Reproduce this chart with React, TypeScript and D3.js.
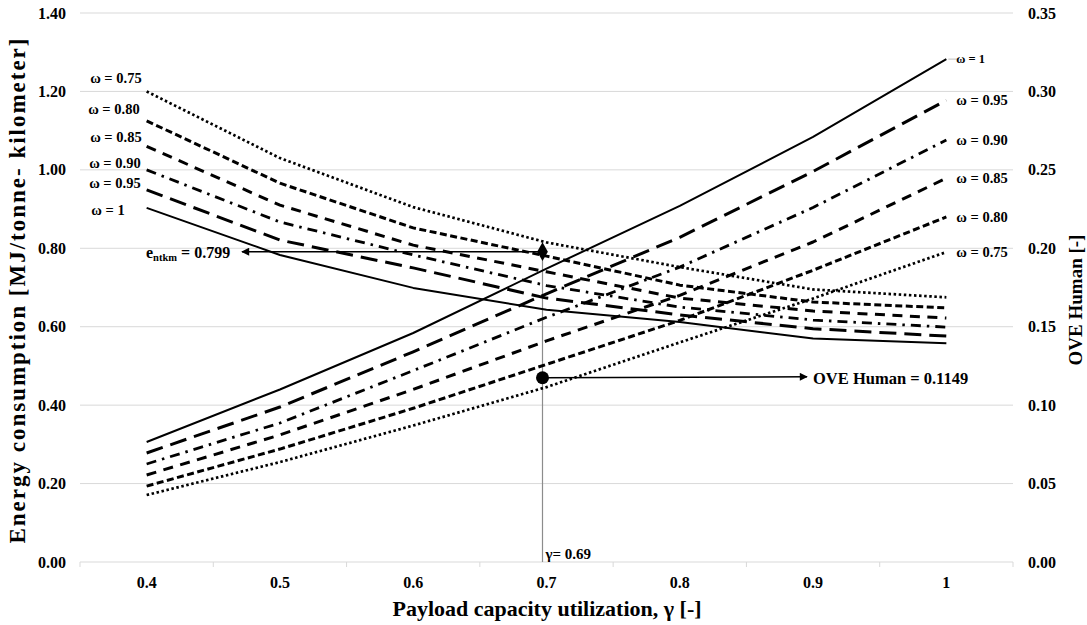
import { useEffect, useRef } from "react";
import * as d3 from "d3";

// payload capacity utilization categories
const gammaValues = [0.4, 0.5, 0.6, 0.7, 0.8, 0.9, 1.0];
const gammaLabels = ["0.4", "0.5", "0.6", "0.7", "0.8", "0.9", "1"];
const omegaLabels = ["ω = 0.75", "ω = 0.80", "ω = 0.85", "ω = 0.90", "ω = 0.95", "ω = 1"];

// energy consumption [MJ/tonne-km] (left axis)
const energy075 = [1.2, 1.03, 0.905, 0.815, 0.752, 0.695, 0.675];
const energy080 = [1.125, 0.966, 0.852, 0.78, 0.706, 0.663, 0.648];
const energy085 = [1.06, 0.91, 0.808, 0.74, 0.673, 0.64, 0.622];
const energy090 = [1.0, 0.867, 0.783, 0.705, 0.65, 0.617, 0.599];
const energy095 = [0.949, 0.821, 0.75, 0.673, 0.63, 0.595, 0.576];
const energy100 = [0.903, 0.783, 0.699, 0.643, 0.612, 0.57, 0.558];

// OVE Human [-] (right axis)
const ove075 = [0.0427, 0.0637, 0.087, 0.1115, 0.14, 0.168, 0.1976];
const ove080 = [0.0484, 0.072, 0.098, 0.126, 0.154, 0.186, 0.22];
const ove085 = [0.0555, 0.081, 0.11, 0.141, 0.17, 0.204, 0.2447];
const ove090 = [0.0625, 0.0886, 0.122, 0.156, 0.188, 0.226, 0.269];
const ove095 = [0.0695, 0.0988, 0.134, 0.171, 0.207, 0.249, 0.2944];
const ove100 = [0.0765, 0.11, 0.146, 0.187, 0.227, 0.271, 0.3206];

const energySeries = [energy075, energy080, energy085, energy090, energy095, energy100];
const oveSeries = [ove075, ove080, ove085, ove090, ove095, ove100];

const energyTicks = [0, 0.2, 0.4, 0.6, 0.8, 1.0, 1.2, 1.4];
const oveTicks = [0, 0.05, 0.1, 0.15, 0.2, 0.25, 0.3, 0.35];

// highlighted operating point
const markGamma = 0.697;
const markEnergy = 0.799;
const markOve = 0.1149;

// line style per omega (same order as omegaLabels)
const lineStyles = [
  { dash: "2.5,2.6", width: 2.7 },
  { dash: "7,3.5", width: 3 },
  { dash: "10,7.5", width: 3 },
  { dash: "10,6,2.5,6", width: 2.8 },
  { dash: "17,8", width: 3 },
  { dash: null, width: 2 },
];
// nudges for the left-hand labels
const leftLabelNudge = [
  { dx: -5, dy: -14 },
  { dx: -7, dy: -12 },
  { dx: -5, dy: -9 },
  { dx: -6, dy: -7 },
  { dx: -6, dy: -7 },
  { dx: -22, dy: 2 },
];

const FONT = "'Liberation Serif', 'Times New Roman', serif";

const App = () => {
  const svgRef = useRef<SVGSVGElement>(null);

  useEffect(() => {
    const svg = d3.select(svgRef.current);
    svg.selectAll("*").remove();

    const width = 1087;
    const height = 625;
    const left = 80;
    const right = 1013;
    const top = 13;
    const bottom = 562;

    svg.attr("width", width).attr("height", height);

    const x = d3.scaleLinear().domain([0.35, 1.05]).range([left, right]);
    const yE = d3.scaleLinear().domain([0, 1.4]).range([bottom, top]);
    const yO = d3.scaleLinear().domain([0, 0.35]).range([bottom, top]);

    const defs = svg.append("defs");
    defs
      .append("marker")
      .attr("id", "arrow")
      .attr("viewBox", "0 0 10 10")
      .attr("refX", 9)
      .attr("refY", 5)
      .attr("markerWidth", 10)
      .attr("markerHeight", 8)
      .attr("markerUnits", "userSpaceOnUse")
      .attr("orient", "auto")
      .append("path")
      .attr("d", "M0,0 L10,5 L0,10 z")
      .attr("fill", "#000");

    // gridlines
    svg
      .append("g")
      .selectAll("line")
      .data(energyTicks)
      .join("line")
      .attr("x1", left)
      .attr("x2", right)
      .attr("y1", (d) => yE(d))
      .attr("y2", (d) => yE(d))
      .attr("stroke", "#d9d9d9")
      .attr("stroke-width", 1);

    // category tick marks on the base line
    const boundaries = d3.range(gammaValues.length + 1).map((i) => 0.35 + i * 0.1);
    svg
      .append("g")
      .selectAll("line")
      .data(boundaries)
      .join("line")
      .attr("x1", (d) => x(d))
      .attr("x2", (d) => x(d))
      .attr("y1", bottom)
      .attr("y2", bottom + 5)
      .attr("stroke", "#d9d9d9");

    // left axis labels
    svg
      .append("g")
      .selectAll("text")
      .data(energyTicks)
      .join("text")
      .attr("x", 66)
      .attr("y", (d) => yE(d))
      .attr("dy", "0.35em")
      .attr("text-anchor", "end")
      .style("font", `bold 16px ${FONT}`)
      .text((d) => d3.format(".2f")(d));

    // right axis labels
    svg
      .append("g")
      .selectAll("text")
      .data(oveTicks)
      .join("text")
      .attr("x", 1028)
      .attr("y", (d) => yO(d))
      .attr("dy", "0.35em")
      .style("font", `bold 16px ${FONT}`)
      .text((d) => d3.format(".2f")(d));

    // x labels
    svg
      .append("g")
      .selectAll("text")
      .data(gammaValues)
      .join("text")
      .attr("x", (d) => x(d))
      .attr("y", 588)
      .attr("text-anchor", "middle")
      .style("font", `bold 16px ${FONT}`)
      .text((d, i) => gammaLabels[i]);

    // axis titles
    svg
      .append("text")
      .attr("x", 547)
      .attr("y", 616)
      .attr("text-anchor", "middle")
      .style("font", `bold 22px ${FONT}`)
      .text("Payload capacity utilization, γ [-]");

    svg
      .append("text")
      .attr("transform", `translate(25, 291) rotate(-90)`)
      .attr("text-anchor", "middle")
      .attr("textLength", 505)
      .attr("lengthAdjust", "spacing")
      .style("font", `bold 23px ${FONT}`)
      .text("Energy consumption [MJ/tonne- kilometer]");

    svg
      .append("text")
      .attr("transform", `translate(1082, 300) rotate(-90)`)
      .attr("text-anchor", "middle")
      .style("font", `bold 19px ${FONT}`)
      .text("OVE Human [-]");

    // marker guide line
    svg
      .append("line")
      .attr("x1", x(markGamma))
      .attr("x2", x(markGamma))
      .attr("y1", yE(markEnergy))
      .attr("y2", bottom)
      .attr("stroke", "#8c8c8c")
      .attr("stroke-width", 1.2);

    const lineE = d3
      .line<number>()
      .x((d, i) => x(gammaValues[i]))
      .y((d) => yE(d));
    const lineO = d3
      .line<number>()
      .x((d, i) => x(gammaValues[i]))
      .y((d) => yO(d));

    const draw = (series: number[][], gen: d3.Line<number>) => {
      svg
        .append("g")
        .selectAll("path")
        .data(series)
        .join("path")
        .attr("d", (d) => gen(d))
        .attr("fill", "none")
        .attr("stroke", "#000")
        .attr("stroke-width", (d, i) => lineStyles[i].width)
        .attr("stroke-dasharray", (d, i) => lineStyles[i].dash)
        .attr("stroke-linejoin", "round");
    };
    draw(energySeries, lineE);
    draw(oveSeries, lineO);

    // left labels (energy curves)
    svg
      .append("g")
      .selectAll("text")
      .data(energySeries)
      .join("text")
      .attr("x", (d, i) => x(gammaValues[0]) + leftLabelNudge[i].dx)
      .attr("y", (d, i) => yE(d[0]) + leftLabelNudge[i].dy)
      .attr("dy", "0.35em")
      .attr("text-anchor", "end")
      .style("font", `bold 14.5px ${FONT}`)
      .text((d, i) => omegaLabels[i]);

    // right labels (OVE curves)
    const last = gammaValues.length - 1;
    svg
      .append("line")
      .attr("x1", x(gammaValues[last]) + 2)
      .attr("x2", x(gammaValues[last]) + 11)
      .attr("y1", yO(ove100[last]))
      .attr("y2", yO(ove100[last]))
      .attr("stroke", "#bfbfbf");
    svg
      .append("g")
      .selectAll("text")
      .data(oveSeries)
      .join("text")
      .attr("x", (d, i) => x(gammaValues[last]) + 10)
      .attr("y", (d) => yO(d[last]))
      .attr("dy", "0.35em")
      .style("font", (d, i) => `bold ${i === 5 ? 12.5 : 14.5}px ${FONT}`)
      .text((d, i) => omegaLabels[i]);

    // energy point annotation
    const mx = x(markGamma);
    const ey = yE(markEnergy);
    svg
      .append("line")
      .attr("x1", mx)
      .attr("x2", 242)
      .attr("y1", ey + 3)
      .attr("y2", ey + 3)
      .attr("stroke", "#000")
      .attr("stroke-width", 1.5)
      .attr("marker-end", "url(#arrow)");
    svg
      .append("path")
      .attr("d", d3.symbol(d3.symbolDiamond, 100)())
      .attr("transform", `translate(${mx},${ey + 3})`)
      .attr("fill", "#000");
    const eLabel = svg
      .append("text")
      .attr("x", 146)
      .attr("y", ey + 9)
      .style("font", `bold 16px ${FONT}`);
    eLabel.append("tspan").text("e");
    eLabel.append("tspan").attr("dy", 3).style("font-size", "10.5px").text("ntkm");
    eLabel.append("tspan").attr("dy", -3).text(" = 0.799");

    // OVE point annotation
    const oy = yO(markOve);
    svg
      .append("line")
      .attr("x1", mx)
      .attr("x2", 807)
      .attr("y1", oy - 4)
      .attr("y2", oy - 5)
      .attr("stroke", "#000")
      .attr("stroke-width", 1.5)
      .attr("marker-end", "url(#arrow)");
    svg
      .append("circle")
      .attr("cx", mx)
      .attr("cy", oy - 4)
      .attr("r", 6.5)
      .attr("fill", "#000");
    svg
      .append("text")
      .attr("x", 813)
      .attr("y", oy - 4)
      .attr("dy", "0.35em")
      .style("font", `bold 16.5px ${FONT}`)
      .text("OVE Human = 0.1149");

    svg
      .append("text")
      .attr("x", mx + 3)
      .attr("y", 559)
      .style("font", `bold 15px ${FONT}`)
      .text("γ= 0.69");
  }, []);

  return (
    <svg
      ref={svgRef}
      style={{ position: "absolute", left: 0, top: 0, display: "block", background: "#fff" }}
    />
  );
};

export default App;
